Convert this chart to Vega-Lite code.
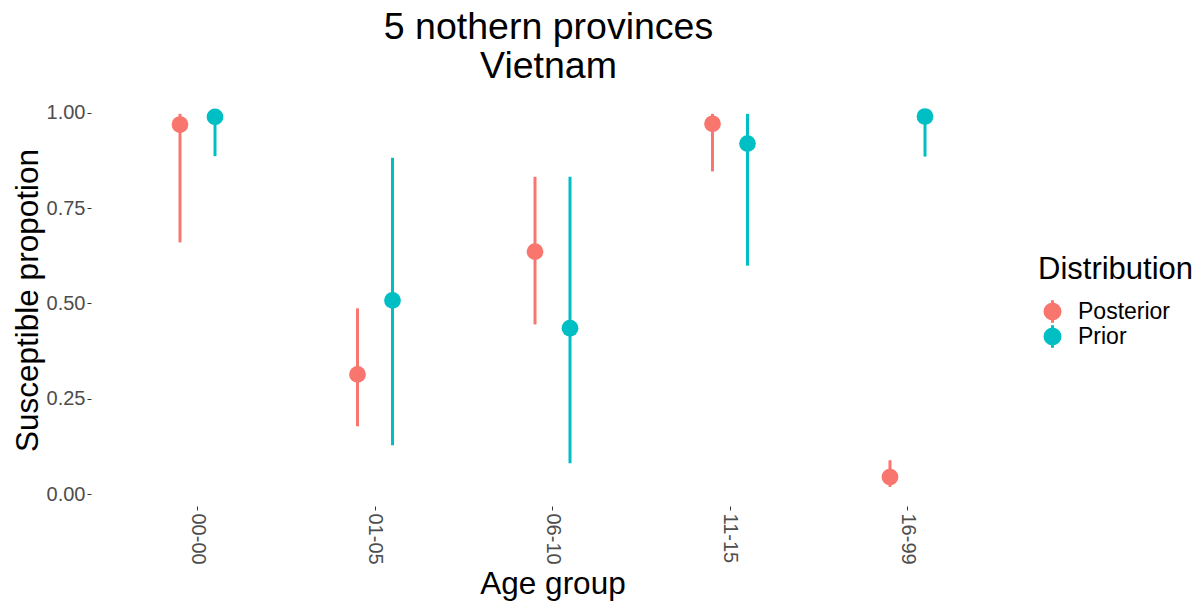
{
  "$schema": "https://vega.github.io/schema/vega-lite/v6.json",
  "width": 923,
  "height": 412,
  "autosize": "none",
  "padding": {"left": 91, "top": 94, "right": 186, "bottom": 95},
  "background": "white",
  "config": {
    "view": {"stroke": null},
    "font": "Liberation Sans",
    "axis": {"grid": false, "domain": false, "tickColor": "#333333", "tickSize": 4, "labelColor": "#4D4D4D", "labelFontSize": 20, "titleFontSize": 31.5, "titleFontWeight": "normal", "titleColor": "black"},
    "legend": {"labelFontSize": 23, "titleFontSize": 31, "labelColor": "black", "titleColor": "black"}
  },
  "title": {
    "text": ["5 nothern provinces", "Vietnam"],
    "fontSize": 37.5,
    "fontWeight": "normal",
    "color": "black",
    "anchor": "middle",
    "lineHeight": 39,
    "offset": 9,
    "dx": -4
  },
  "data": {
    "values": [
      {"age": "00-00", "dist": "Posterior", "mid": 0.969, "lo": 0.660, "hi": 0.997},
      {"age": "01-05", "dist": "Posterior", "mid": 0.314, "lo": 0.178, "hi": 0.487},
      {"age": "06-10", "dist": "Posterior", "mid": 0.636, "lo": 0.445, "hi": 0.832},
      {"age": "11-15", "dist": "Posterior", "mid": 0.971, "lo": 0.846, "hi": 0.997},
      {"age": "16-99", "dist": "Posterior", "mid": 0.045, "lo": 0.019, "hi": 0.089},
      {"age": "00-00", "dist": "Prior", "mid": 0.989, "lo": 0.886, "hi": 0.999},
      {"age": "01-05", "dist": "Prior", "mid": 0.508, "lo": 0.128, "hi": 0.882},
      {"age": "06-10", "dist": "Prior", "mid": 0.435, "lo": 0.081, "hi": 0.832},
      {"age": "11-15", "dist": "Prior", "mid": 0.919, "lo": 0.599, "hi": 0.997},
      {"age": "16-99", "dist": "Prior", "mid": 0.990, "lo": 0.885, "hi": 0.999}
    ]
  },
  "encoding": {
    "x": {
      "field": "age", "type": "nominal",
      "scale": {"paddingInner": 0, "paddingOuter": 0.1},
      "axis": {"title": "Age group", "labelAngle": 90, "labelAlign": "left", "labelBaseline": "middle", "labelPadding": 3, "titleBaseline": "top", "titleY": 62}
    },
    "xOffset": {"field": "dist", "type": "nominal", "scale": {"range": [53.75, 123.75], "paddingInner": 0, "paddingOuter": 0}},
    "color": {
      "field": "dist", "type": "nominal",
      "scale": {"domain": ["Posterior", "Prior"], "range": ["#F8766D", "#00BFC4"]},
      "legend": {
        "title": "Distribution",
        "orient": "none",
        "legendX": 947,
        "legendY": 161,
        "titleFontSize": 31,
        "titleFontWeight": "normal",
        "titleColor": "black",
        "titlePadding": 14,
        "labelFontSize": 23,
        "labelColor": "black",
        "symbolType": "M1,0 L0.924,0.383 L0.707,0.707 L0.383,0.924 L0,1 L-0.383,0.924 L-0.707,0.707 L-0.924,0.383 L-1,0 L-0.924,-0.383 L-0.707,-0.707 L-0.383,-0.924 L0,-1 L0.383,-0.924 L0.707,-0.707 L0.924,-0.383 Z M-0.17,-1.25 L0.17,-1.25 L0.17,1.25 L-0.17,1.25 Z",
        "symbolSize": 324,
        "symbolOpacity": 1,
        "symbolStrokeWidth": 0,
        "rowPadding": 1,
        "labelOffset": 14,
        "symbolOffset": 3
      }
    }
  },
  "layer": [
    {
      "mark": {"type": "rule", "strokeWidth": 3},
      "encoding": {
        "y": {"field": "lo", "type": "quantitative", "scale": {"domain": [-0.031, 1.049], "nice": false, "zero": false},
          "axis": {"title": "Susceptible propotion", "values": [0, 0.25, 0.5, 0.75, 1], "format": ".2f", "labelPadding": 2, "titlePadding": 2}},
        "y2": {"field": "hi"}
      }
    },
    {
      "mark": {"type": "point", "filled": true, "opacity": 1, "size": 280},
      "encoding": {
        "y": {"field": "mid", "type": "quantitative"}
      }
    }
  ]
}
